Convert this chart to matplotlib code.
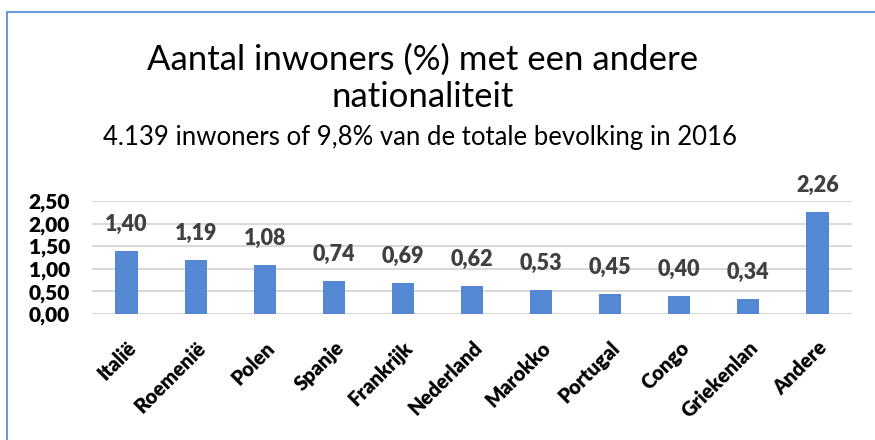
import matplotlib
matplotlib.use("Agg")
import matplotlib.pyplot as plt
from matplotlib.patches import Rectangle
from matplotlib.ticker import FuncFormatter

# data
landen = ["Italië", "Roemenië", "Polen", "Spanje", "Frankrijk", "Nederland",
          "Marokko", "Portugal", "Congo", "Griekenlan", "Andere"]
procent = [1.40, 1.19, 1.08, 0.74, 0.69, 0.62, 0.53, 0.45, 0.40, 0.34, 2.26]
yticks = [0.0, 0.5, 1.0, 1.5, 2.0, 2.5]

titel = "Aantal inwoners (%) met een andere\nnationaliteit"
subtitel = "4.139 inwoners of 9,8% van de totale bevolking in 2016"

plt.rcParams['font.family'] = ['Lato', 'DejaVu Sans']

fig = plt.figure(figsize=(8.75, 4.4), dpi=100)

# blue frame around the chart
fig.patches.append(Rectangle((7 / 875, -0.1), 1.2, 1.1 - 12 / 440,
                             transform=fig.transFigure, fill=False,
                             edgecolor='#6a9bd8', linewidth=1.5))

ax = fig.add_axes([92 / 875, 1 - 314 / 440, 760 / 875, 113 / 440])

x = range(len(landen))
bars = ax.bar(x, procent, width=0.32, color='#5588d3', zorder=3)

for xi, v in zip(x, procent):
    ax.annotate(f"{v:.2f}".replace('.', ','), (xi, v), xytext=(0, 19),
                textcoords='offset points', ha='center', va='center',
                fontsize=15.5, fontweight='heavy', color='#404040',
                annotation_clip=False)

ax.set_xlim(-0.5, len(landen) - 0.5)
ax.set_ylim(0, 2.5)
ax.set_yticks(yticks)
ax.yaxis.set_major_formatter(FuncFormatter(lambda v, p: f"{v:.2f}".replace('.', ',')))
ax.grid(axis='y', color='#d9d9d9', linewidth=1.5, zorder=0)
for s in ax.spines.values():
    s.set_visible(False)
ax.tick_params(length=0)
ax.tick_params(axis='y', pad=16, labelsize=15)
for lbl in ax.get_yticklabels():
    lbl.set_fontweight('heavy')

ax.set_xticks(list(x))
ax.set_xticklabels(landen, rotation=45, ha='right', rotation_mode='anchor',
                   fontsize=14.5, fontweight='heavy')
ax.tick_params(axis='x', pad=17)

fig.text(0.483, 1 - 78 / 440, titel, ha='center', va='center', fontsize=25,
         linespacing=1.2)
fig.text(0.48, 1 - 137 / 440, subtitel, ha='center', va='center', fontsize=18.5)

fig.savefig("out.png", dpi=100)
